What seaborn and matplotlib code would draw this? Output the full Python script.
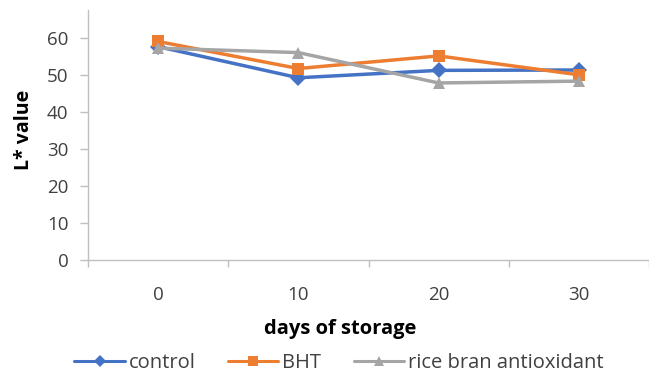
import matplotlib
matplotlib.use("Agg")
import matplotlib.pyplot as plt
import seaborn as sns
import pandas as pd
from matplotlib.ticker import FixedLocator
from matplotlib.lines import Line2D

days = ["0", "10", "20", "30"]
control = [57.6, 49.2, 51.2, 51.3]
bht = [59.0, 51.7, 55.1, 50.0]
rice_bran = [57.2, 56.0, 47.8, 48.3]
series_names = ["control", "BHT", "rice bran antioxidant"]

rows = []
for name, vals in zip(series_names, [control, bht, rice_bran]):
    for d, v in zip(days, vals):
        rows.append({"day": d, "value": v, "series": name})
df = pd.DataFrame(rows)

sns.set_theme(style="white")
plt.rcParams['font.family'] = ['Open Sans', 'DejaVu Sans']

palette = {"control": "#4472C4", "BHT": "#ED7D31", "rice bran antioxidant": "#A5A5A5"}
markers = {"control": "D", "BHT": "s", "rice bran antioxidant": "^"}

fig = plt.figure(figsize=(6.49, 3.76), dpi=100)
ax = fig.add_axes([88/649, 1-260/376, 1-88/649, 250/376])

sns.lineplot(data=df, x="day", y="value", hue="series", style="series",
             palette=palette, markers=markers, dashes=False, linewidth=2.5,
             markersize=8, markeredgewidth=0, ax=ax, sort=False, legend=False)

ax.set_xlim(-0.5, 3.5)
ax.set_ylim(0, 67.5)
ax.set_yticks([0, 10, 20, 30, 40, 50, 60])
ax.set_xticks(range(4))
ax.set_xticklabels(days)
ax.xaxis.set_minor_locator(FixedLocator([-0.5, 0.5, 1.5, 2.5, 3.5]))

spine_col = "#BFBFBF"
for s in ["top", "right"]:
    ax.spines[s].set_visible(False)
for s in ["left", "bottom"]:
    ax.spines[s].set_color(spine_col)
    ax.spines[s].set_linewidth(1.0)

ax.tick_params(axis="x", which="major", length=0, pad=19, labelsize=13.5, labelcolor="#404040")
ax.tick_params(axis="x", which="minor", length=5, width=1, color=spine_col, direction="out", bottom=True)
ax.tick_params(axis="y", which="major", length=6, width=1, color=spine_col, direction="out", left=True,
               pad=8, labelsize=13.5, labelcolor="#404040")

ax.set_xlabel("days of storage", fontsize=14.5, fontweight="bold", color="black")
ax.set_ylabel("L* value", fontsize=14, fontweight="bold", color="black")
ax.xaxis.set_label_coords(0.449, -0.235)
ax.yaxis.set_label_coords(-0.097, 0.52)

handles = [Line2D([0], [0], color=palette[n], marker=markers[n], lw=2.2, markersize=6.5,
                  markeredgewidth=0) for n in series_names]
fig.legend(handles, series_names, loc="center", bbox_to_anchor=(339/649, 13/376), ncol=3,
           frameon=False, fontsize=14.5, handlelength=2.5, columnspacing=1.6, handletextpad=0.2,
           labelcolor="#404040")

fig.savefig("out.png", dpi=100)
